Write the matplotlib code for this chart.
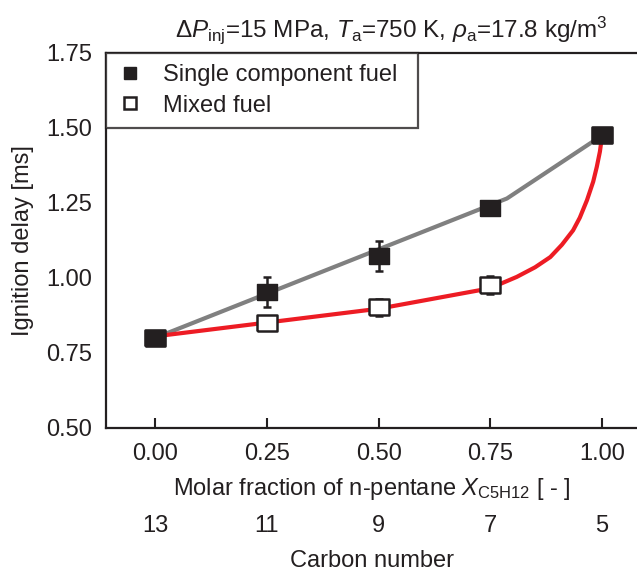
import matplotlib
matplotlib.use("Agg")
import matplotlib.pyplot as plt
from matplotlib.lines import Line2D

plt.rcParams['font.family'] = ['Liberation Sans', 'DejaVu Sans']
plt.rcParams['mathtext.fontset'] = 'custom'
plt.rcParams['mathtext.rm'] = 'Liberation Sans'
plt.rcParams['mathtext.it'] = 'Liberation Sans:italic'
plt.rcParams['mathtext.bf'] = 'Liberation Sans:bold'

# measured points
x_frac = [0.0, 0.25, 0.5, 0.75, 1.0]
single_delay = [0.80, 0.954, 1.072, 1.231, 1.474]
single_err = [0.0, 0.05, 0.051, 0.0, 0.0]
mixed_delay = [0.80, 0.851, 0.902, 0.977, 1.474]
mixed_err = [0.0, 0.0, 0.028, 0.03, 0.0]

# trend lines
single_fit_x = [0.0, 0.787, 1.0]
single_fit_y = [0.80, 1.264, 1.474]
mixed_fit_x = [0.0, 0.25, 0.5, 0.749, 0.809, 0.85, 0.884, 0.91, 0.935, 0.95, 0.966, 0.98, 0.988, 0.995, 1.0]
mixed_fit_y = [0.805, 0.851, 0.897, 0.965, 1.003, 1.035, 1.069, 1.11, 1.158, 1.20, 1.258, 1.32, 1.369, 1.42, 1.474]

carbon_labels = ["13", "11", "9", "7", "5"]

dark = "#231f20"
fs = 17
W, H = 637, 571
fig = plt.figure(figsize=(W / 100, H / 100), dpi=100)
ax = fig.add_axes([106 / W, 1 - 428 / H, 1 - 106 / W, (428 - 52.5) / H])

ax.plot(single_fit_x, single_fit_y, color="#808080", lw=3, zorder=2)
ax.plot(mixed_fit_x, mixed_fit_y, color="#ed1c24", lw=3, zorder=2)

rect = [(-1, -0.79), (1, -0.79), (1, 0.79), (-1, 0.79), (-1, -0.79)]
ax.errorbar(x_frac, single_delay, yerr=single_err, fmt="none", ecolor=dark,
            elinewidth=1.8, capsize=3, capthick=1.8, zorder=3)
ax.errorbar(x_frac, mixed_delay, yerr=mixed_err, fmt="none", ecolor=dark,
            elinewidth=1.8, capsize=3, capthick=1.8, zorder=3)
ax.plot(x_frac, mixed_delay, ls="none", marker=rect, ms=14, mfc="white",
        mec=dark, mew=1.8, zorder=4)
ax.plot(x_frac, single_delay, ls="none", marker=rect, ms=14, mfc=dark,
        mec=dark, mew=1, zorder=5)

ax.set_xlim(-0.110, 1.078)
ax.set_ylim(0.5, 1.75)
ax.set_xticks(x_frac)
ax.set_xticklabels(["%.2f" % v for v in x_frac])
ax.set_yticks([0.5, 0.75, 1.0, 1.25, 1.5, 1.75])
ax.set_yticklabels(["0.50", "0.75", "1.00", "1.25", "1.50", "1.75"])
ax.tick_params(axis="x", direction="in", length=7, width=1.5, color=dark,
               pad=11, labelsize=fs, labelcolor=dark)
ax.tick_params(axis="y", length=0, pad=10, labelsize=fs, labelcolor=dark)
for side in ["left", "bottom", "top"]:
    ax.spines[side].set_linewidth(1.6)
    ax.spines[side].set_color(dark)
ax.spines["right"].set_visible(False)

ax.set_ylabel("Ignition delay [ms]", fontsize=fs, color=dark, labelpad=9)
ax.set_xlabel(r"Molar fraction of n-pentane $X_{\mathrm{C5H12}}$ [ - ]",
              fontsize=fs, color=dark, labelpad=8)

sec = ax.secondary_xaxis(-0.232)
sec.set_xticks(x_frac)
sec.set_xticklabels(carbon_labels)
sec.tick_params(length=0, pad=0, labelsize=fs, labelcolor=dark)
sec.spines["bottom"].set_visible(False)
sec.set_xlabel("Carbon number", fontsize=fs, color=dark, labelpad=9)

handles = [
    Line2D([], [], ls="none", marker="s", ms=9, mfc=dark, mec=dark),
    Line2D([], [], ls="none", marker="s", ms=8, mfc="white", mec=dark, mew=1.8),
]
leg = ax.legend(handles, ["Single component fuel", "Mixed fuel"], loc="upper left",
                bbox_to_anchor=(0, 0, 0.588, 1), mode="expand", borderaxespad=0,
                fontsize=fs, frameon=True, fancybox=False, handlelength=1.0,
                handletextpad=0.9, borderpad=0.5, labelspacing=0.35)
leg.get_frame().set_edgecolor(dark)
leg.get_frame().set_linewidth(1.6)
for t in leg.get_texts():
    t.set_color(dark)

fig.text(391 / W, 1 - 30 / H,
         r"$\mathit{\Delta P}_{\mathrm{inj}}$=15 MPa, $T_{\mathrm{a}}$=750 K, $\rho_{\mathrm{a}}$=17.8 kg/m$^{3}$",
         ha="center", va="center", fontsize=17.5, color=dark)

fig.savefig("out.png", dpi=100)
